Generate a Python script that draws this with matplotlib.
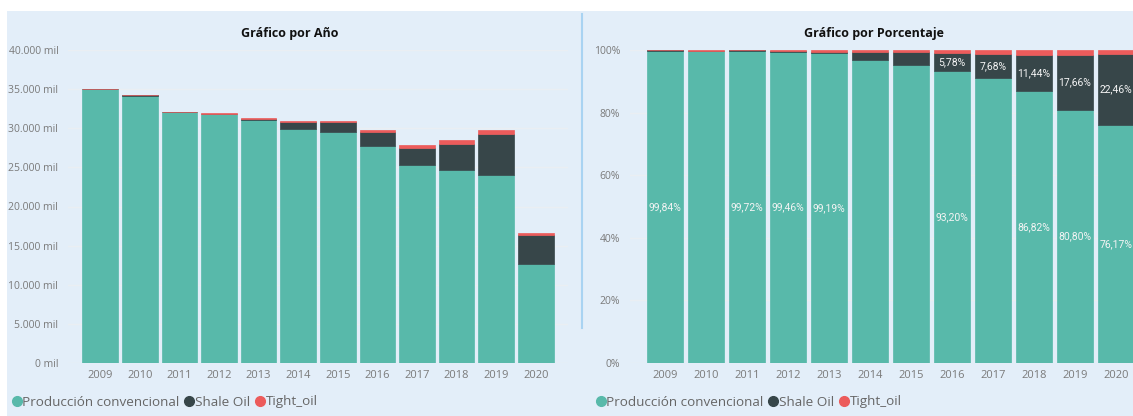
import numpy as np
import matplotlib
matplotlib.use("Agg")
import matplotlib.pyplot as plt
from matplotlib.patches import Rectangle
from matplotlib.lines import Line2D

# Oil production by year, split by source
years = ["2009", "2010", "2011", "2012", "2013", "2014",
         "2015", "2016", "2017", "2018", "2019", "2020"]
total_mil = [35050, 34250, 32120, 31970, 31350, 30900,
             30920, 29780, 27850, 28450, 29780, 16600]
conv_pct = [99.84, 99.78, 99.72, 99.46, 99.19, 96.70,
            95.30, 93.20, 90.90, 86.82, 80.80, 76.17]
shale_pct = [0.11, 0.04, 0.14, 0.18, 0.28, 2.80,
             4.20, 5.78, 7.68, 11.44, 17.66, 22.46]
tight_pct = [0.05, 0.18, 0.14, 0.36, 0.53, 0.50,
             0.50, 1.02, 1.42, 1.74, 1.54, 1.37]
# which percentage labels survive (the rest collide and are hidden)
conv_label_on = [True, False, True, True, True, False,
                 False, True, False, True, True, True]
shale_label_on = [False, False, False, False, False, False,
                  False, True, True, True, True, True]

series_names = ["Producción convencional", "Shale Oil", "Tight_oil"]
colors = ["#58B9AA", "#374649", "#EC5B5B"]

W, H = 1133, 416
BG = "#E3EEF9"
GRID = "#EAEEF3"
TICK = "#7A7A7A"

fig = plt.figure(figsize=(W / 100, H / 100), dpi=100)
fig.patch.set_facecolor("white")
fig.add_artist(Rectangle((7 / W, 0), 1, 1 - 11 / H, transform=fig.transFigure,
                         facecolor=BG, edgecolor="none", zorder=-10))
fig.add_artist(Line2D([582 / W, 582 / W], [1 - 328 / H, 1 - 14 / H],
                      transform=fig.transFigure, color="#A9D3F2", lw=1.5))


def px_axes(left, right, top, bottom):
    return fig.add_axes([left / W, 1 - bottom / H, (right - left) / W, (bottom - top) / H])


def style(ax):
    ax.set_facecolor("none")
    for s in ax.spines.values():
        s.set_visible(False)
    ax.tick_params(length=0, colors=TICK)
    ax.tick_params(axis="y", pad=7, labelsize=7.5)
    ax.tick_params(axis="x", pad=5, labelsize=8)
    ax.grid(axis="y", color=GRID, lw=1)
    ax.set_axisbelow(True)
    for lab in ax.get_xticklabels() + ax.get_yticklabels():
        lab.set_fontfamily("Open Sans")


def stack(ax, parts):
    bottom = np.zeros(len(years))
    for vals, c in zip(parts, colors):
        # thin outline in the fill colour keeps tiny segments visible
        ax.bar(x, vals, 0.9, bottom=bottom, color=c, edgecolor=c, linewidth=0.5)
        bottom += vals


x = np.arange(len(years))
conv = np.array(conv_pct)
shale = np.array(shale_pct)
tight = np.array(tight_pct)
tot = np.array(total_mil)

# left: absolute volumes
ax1 = px_axes(68, 568, 50, 363)
stack(ax1, [tot * conv / 100, tot * shale / 100, tot * tight / 100])
ax1.set_xlim(-0.5 - 0.316, 11.5 + 0.316)
ax1.set_ylim(0, 40000)
ax1.set_yticks(np.arange(0, 40001, 5000))
ax1.set_yticklabels([f"{v:,.0f}".replace(",", ".") + " mil" for v in np.arange(0, 40001, 5000)])
ax1.set_xticks(x)
ax1.set_xticklabels(years)
style(ax1)
fig.text(290 / W, 1 - 33 / H, "Gráfico por Año", ha="center", va="center",
         fontsize=9, fontweight="bold", family="Open Sans", color="#111111")

# right: shares
ax2 = px_axes(630, 1151, 50, 363)
stack(ax2, [conv, shale, tight])
ax2.set_xlim(-0.5 - 0.354, 11.5 + 0.354)
ax2.set_ylim(0, 100)
ax2.set_yticks(np.arange(0, 101, 20))
ax2.set_yticklabels([f"{v}%" for v in range(0, 101, 20)])
ax2.set_xticks(x)
ax2.set_xticklabels(years)
style(ax2)
fig.text(874 / W, 1 - 33 / H, "Gráfico por Porcentaje", ha="center", va="center",
         fontsize=9, fontweight="bold", family="Open Sans", color="#111111")


def pct_text(v):
    return f"{v:.2f}%".replace(".", ",")


for i in range(len(years)):
    if conv_label_on[i]:
        ax2.text(x[i], conv[i] / 2, pct_text(conv[i]), ha="center", va="center",
                 color="#F4F4F4", fontsize=7.5, family="Roboto")
    if shale_label_on[i]:
        ax2.text(x[i], conv[i] + shale[i] / 2, pct_text(shale[i]), ha="center", va="center",
                 color="#F4F4F4", fontsize=7.5, family="Roboto")

# legends
for x0 in (10, 594):
    handles = [Line2D([], [], marker="o", ls="none", markersize=7, color=c) for c in colors]
    leg = fig.legend(handles, series_names, loc="center left",
                     bbox_to_anchor=(x0 / W, 1 - 402 / H), frameon=False, ncol=3,
                     handletextpad=-0.1, columnspacing=0.25, handlelength=1.0,
                     borderaxespad=0, borderpad=0,
                     prop={"family": "Open Sans", "size": 9.7})
    for t in leg.get_texts():
        t.set_color("#666666")

fig.savefig("out.png", dpi=100, facecolor="white")
